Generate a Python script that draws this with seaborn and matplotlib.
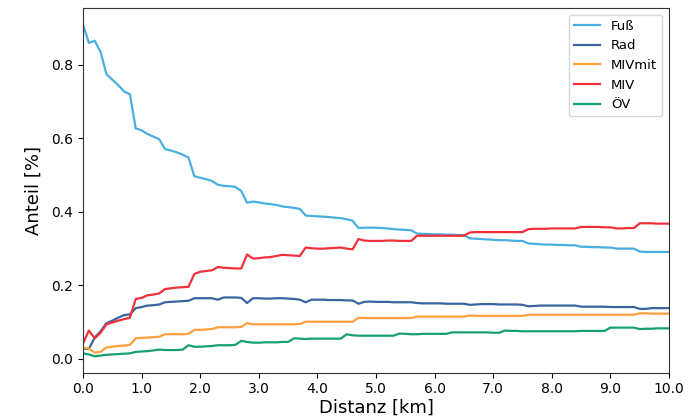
import numpy as np
import pandas as pd
import matplotlib
matplotlib.use("Agg")
import matplotlib.pyplot as plt
import seaborn as sns

distanz = [round(i * 0.1, 1) for i in range(101)]

fuss = [0.910, 0.860, 0.866, 0.835, 0.775, 0.760, 0.745, 0.728, 0.720, 0.627,
        0.622, 0.612, 0.605, 0.598, 0.571, 0.567, 0.562, 0.556, 0.548, 0.497,
        0.493, 0.489, 0.484, 0.474, 0.471, 0.470, 0.468, 0.457, 0.425, 0.428,
        0.426, 0.423, 0.421, 0.419, 0.415, 0.413, 0.411, 0.408, 0.390, 0.389,
        0.388, 0.387, 0.386, 0.384, 0.383, 0.380, 0.376, 0.356, 0.357, 0.357,
        0.357, 0.356, 0.355, 0.353, 0.352, 0.351, 0.350, 0.341, 0.340, 0.340,
        0.339, 0.339, 0.338, 0.338, 0.337, 0.337, 0.328, 0.327, 0.326, 0.325,
        0.324, 0.323, 0.323, 0.322, 0.321, 0.321, 0.314, 0.313, 0.312, 0.311,
        0.311, 0.310, 0.310, 0.309, 0.309, 0.305, 0.305, 0.304, 0.304, 0.303,
        0.303, 0.300, 0.300, 0.300, 0.300, 0.292, 0.291, 0.291, 0.291, 0.291,
        0.291]

rad = [0.028, 0.027, 0.058, 0.075, 0.097, 0.104, 0.112, 0.119, 0.121, 0.138,
       0.141, 0.145, 0.146, 0.148, 0.154, 0.155, 0.156, 0.157, 0.158, 0.165,
       0.165, 0.165, 0.165, 0.161, 0.167, 0.167, 0.167, 0.166, 0.152, 0.165,
       0.165, 0.164, 0.164, 0.165, 0.165, 0.164, 0.163, 0.161, 0.154, 0.161,
       0.161, 0.161, 0.160, 0.160, 0.160, 0.159, 0.159, 0.150, 0.155, 0.156,
       0.155, 0.155, 0.155, 0.154, 0.154, 0.154, 0.154, 0.152, 0.151, 0.151,
       0.151, 0.151, 0.150, 0.150, 0.150, 0.150, 0.147, 0.148, 0.149, 0.149,
       0.149, 0.148, 0.148, 0.148, 0.148, 0.147, 0.143, 0.144, 0.145, 0.145,
       0.145, 0.145, 0.145, 0.145, 0.145, 0.142, 0.142, 0.142, 0.142, 0.142,
       0.141, 0.141, 0.141, 0.141, 0.141, 0.136, 0.136, 0.138, 0.138, 0.138,
       0.138]

mivmit = [0.030, 0.028, 0.017, 0.019, 0.031, 0.033, 0.035, 0.036, 0.038, 0.056,
          0.057, 0.058, 0.059, 0.060, 0.067, 0.067, 0.067, 0.067, 0.068, 0.079,
          0.079, 0.080, 0.081, 0.086, 0.086, 0.086, 0.086, 0.087, 0.097, 0.094,
          0.094, 0.094, 0.094, 0.094, 0.094, 0.094, 0.094, 0.095, 0.101, 0.101,
          0.101, 0.101, 0.101, 0.101, 0.101, 0.101, 0.101, 0.112, 0.111, 0.111,
          0.111, 0.111, 0.111, 0.111, 0.111, 0.111, 0.111, 0.115, 0.115, 0.115,
          0.115, 0.115, 0.115, 0.115, 0.115, 0.115, 0.118, 0.117, 0.117, 0.117,
          0.117, 0.117, 0.117, 0.117, 0.117, 0.117, 0.120, 0.120, 0.120, 0.120,
          0.120, 0.120, 0.120, 0.120, 0.120, 0.120, 0.120, 0.120, 0.120, 0.120,
          0.120, 0.120, 0.120, 0.120, 0.120, 0.124, 0.124, 0.123, 0.123, 0.123,
          0.123]

miv = [0.042, 0.077, 0.056, 0.071, 0.094, 0.099, 0.104, 0.108, 0.112, 0.163,
       0.166, 0.173, 0.175, 0.178, 0.190, 0.192, 0.194, 0.195, 0.196, 0.231,
       0.237, 0.239, 0.241, 0.250, 0.248, 0.247, 0.246, 0.246, 0.284, 0.273,
       0.274, 0.276, 0.277, 0.280, 0.283, 0.282, 0.281, 0.280, 0.303, 0.301,
       0.300, 0.300, 0.301, 0.302, 0.303, 0.300, 0.298, 0.326, 0.322, 0.321,
       0.321, 0.321, 0.322, 0.322, 0.321, 0.321, 0.321, 0.335, 0.335, 0.335,
       0.335, 0.335, 0.335, 0.335, 0.335, 0.335, 0.344, 0.345, 0.345, 0.345,
       0.345, 0.345, 0.345, 0.345, 0.345, 0.345, 0.353, 0.354, 0.354, 0.354,
       0.355, 0.355, 0.355, 0.355, 0.355, 0.359, 0.359, 0.359, 0.359, 0.358,
       0.358, 0.355, 0.355, 0.356, 0.356, 0.369, 0.369, 0.369, 0.368, 0.368,
       0.368]

oev = [0.015, 0.012, 0.007, 0.009, 0.011, 0.012, 0.013, 0.014, 0.015, 0.019,
       0.020, 0.021, 0.023, 0.025, 0.024, 0.024, 0.024, 0.025, 0.037, 0.033,
       0.033, 0.034, 0.035, 0.037, 0.037, 0.037, 0.038, 0.049, 0.046, 0.044,
       0.044, 0.045, 0.045, 0.045, 0.046, 0.046, 0.056, 0.055, 0.054, 0.055,
       0.055, 0.055, 0.055, 0.055, 0.055, 0.067, 0.064, 0.063, 0.063, 0.063,
       0.063, 0.063, 0.063, 0.063, 0.069, 0.068, 0.067, 0.067, 0.068, 0.068,
       0.068, 0.068, 0.068, 0.072, 0.072, 0.072, 0.072, 0.072, 0.072, 0.072,
       0.071, 0.071, 0.077, 0.076, 0.076, 0.075, 0.075, 0.075, 0.075, 0.075,
       0.075, 0.075, 0.075, 0.075, 0.075, 0.076, 0.076, 0.076, 0.076, 0.076,
       0.085, 0.085, 0.085, 0.085, 0.085, 0.081, 0.082, 0.082, 0.083, 0.083,
       0.083]

modes = ["Fuß", "Rad", "MIVmit", "MIV", "ÖV"]
colors = ["#48afe0", "#3a64a0", "#ffa040", "#f2303c", "#16a06c"]
x_ticks = [0, 1, 2, 3, 4, 5, 6, 7, 8, 9, 10]
y_ticks = [0.0, 0.2, 0.4, 0.6, 0.8]

series = [fuss, rad, mivmit, miv, oev]
df = pd.concat(
    [pd.DataFrame({"Distanz": distanz, "Anteil": vals, "Modus": m})
     for m, vals in zip(modes, series)],
    ignore_index=True,
)

plt.rcParams["font.family"] = ["DejaVu Sans"]
fig = plt.figure(figsize=(6.94, 4.18), dpi=100)
ax = fig.add_axes([0.1196, 0.108, 0.8444, 0.873])

sns.lineplot(data=df, x="Distanz", y="Anteil", hue="Modus",
             palette=dict(zip(modes, colors)), hue_order=modes,
             linewidth=1.6, ax=ax)

ax.set_xlim(0, 10)
ax.set_xticks(x_ticks)
ax.set_xticklabels([f"{t:.1f}" for t in x_ticks], fontsize=10)
ax.set_yticks(y_ticks)
ax.set_yticklabels([f"{t:.1f}" for t in y_ticks], fontsize=10)
ax.tick_params(axis="x", pad=3)
ax.set_xlabel("Distanz [km]", fontsize=13, labelpad=2)
ax.set_ylabel("Anteil [%]", fontsize=13, labelpad=6)
for s in ax.spines.values():
    s.set_color("#333333")
ax.legend(loc="upper right", fontsize=9.5, title=None)

fig.savefig("out.png", dpi=100)
